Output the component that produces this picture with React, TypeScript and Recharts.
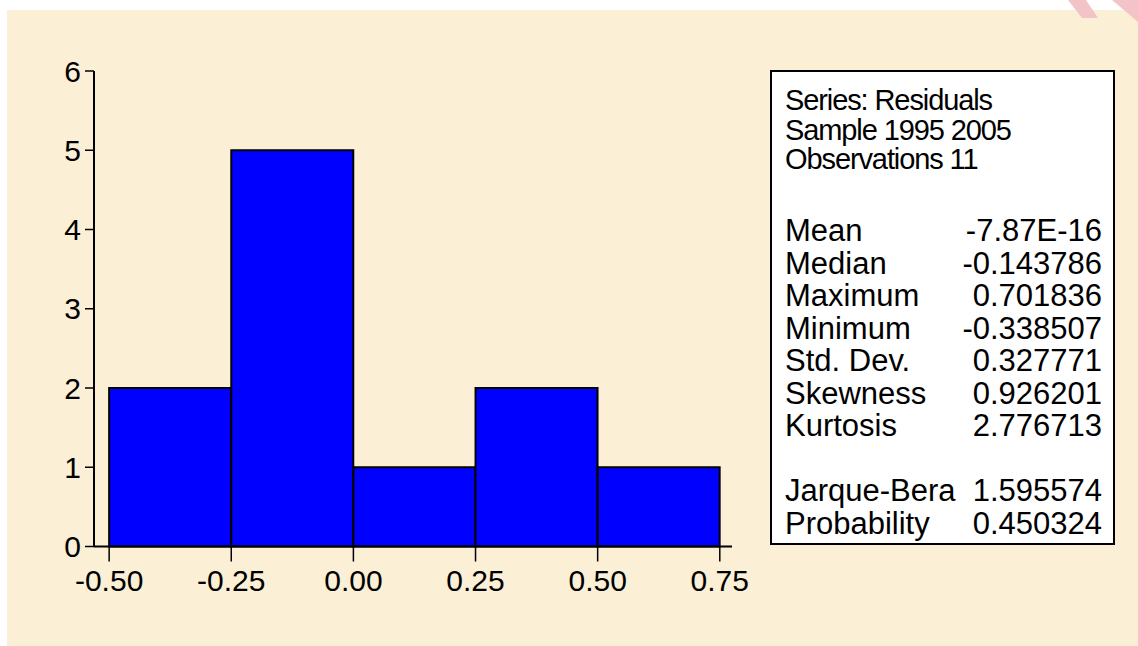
import { BarChart, Bar, XAxis, YAxis } from 'recharts';

// histogram bins of the residuals
const binEdges = [-0.5, -0.25, 0, 0.25, 0.5, 0.75];
const binCounts = [2, 5, 1, 2, 1];
const xTicks = [-0.5, -0.25, 0, 0.25, 0.5, 0.75];
const yTicks = [0, 1, 2, 3, 4, 5, 6];
const xDomain = [-0.531, 0.775];

const headerLines = ['Series: Residuals', 'Sample 1995 2005', 'Observations 11'];
const statLabels = ['Mean', 'Median', 'Maximum', 'Minimum', 'Std. Dev.', 'Skewness', 'Kurtosis'];
const statValues = ['-7.87E-16', '-0.143786', '0.701836', '-0.338507', '0.327771', '0.926201', '2.776713'];
const testLabels = ['Jarque-Bera', 'Probability'];
const testValues = ['1.595574', '0.450324'];

const bins = binCounts.map((count, i) => ({
  mid: (binEdges[i] + binEdges[i + 1]) / 2,
  count,
}));

const FONT = '"Liberation Sans", Arial, sans-serif';
const BG = '#FBEFD6';
const axisStyle = { stroke: '#000', strokeWidth: 2 };
const tickStyle = { stroke: '#000', strokeWidth: 1.5 };

const App = () => {
  return (
    <div
      style={{
        position: 'absolute',
        left: 0,
        top: 0,
        width: 1138,
        height: 646,
        background: '#fff',
        overflow: 'hidden',
        fontFamily: FONT,
      }}
    >
      <div style={{ position: 'absolute', left: 7, top: 10, width: 1131, height: 636, background: BG }} />
      <div style={{ position: 'absolute', left: 0, top: 0 }}>
        <BarChart
          width={760}
          height={646}
          data={bins}
          margin={{ top: 71, right: 28, bottom: 39.5, left: 0 }}
          barCategoryGap={0}
          barGap={0}
        >
          <XAxis
            dataKey="mid"
            type="number"
            domain={xDomain}
            allowDataOverflow
            ticks={xTicks}
            interval={0}
            tickFormatter={(v: number) => v.toFixed(2)}
            height={60}
            tickSize={15}
            tickMargin={8}
            axisLine={axisStyle}
            tickLine={tickStyle}
            tick={{ fill: '#000', fontSize: 30, fontFamily: FONT }}
          />
          <XAxis
            xAxisId="top"
            orientation="top"
            dataKey="mid"
            type="number"
            domain={xDomain}
            allowDataOverflow
            height={0}
            tick={false}
            tickLine={false}
            axisLine={axisStyle}
          />
          <YAxis
            type="number"
            domain={[0, 6]}
            ticks={yTicks}
            interval={0}
            width={94}
            tickSize={9}
            tickMargin={4}
            axisLine={axisStyle}
            tickLine={tickStyle}
            tick={{ fill: '#000', fontSize: 30, fontFamily: FONT }}
          />
          <YAxis
            yAxisId="right"
            orientation="right"
            type="number"
            domain={[0, 6]}
            width={0}
            tick={false}
            tickLine={false}
            axisLine={axisStyle}
          />
          <Bar dataKey="count" fill="#0000FF" stroke="#000" strokeWidth={2} isAnimationActive={false} />
        </BarChart>
      </div>
      <svg
        width={1138}
        height={646}
        style={{ position: 'absolute', left: 0, top: 0, pointerEvents: 'none' }}
      >
        <path d="M1068,0 L1086,0 L1098,18 L1082,18 Z" fill="#F2C4C8" />
        <path d="M1112,0 L1138,0 L1138,22 Z" fill="#F2C4C8" />
        <rect x={771} y={71} width={343} height={473} fill="#fff" stroke="#000" strokeWidth={2} />
        {headerLines.map((t, i) => (
          <text
            key={t}
            x={785}
            y={110 + i * 29.5}
            fontSize={29}
            letterSpacing={-1.1}
            fontFamily={FONT}
            fill="#000"
          >
            {t}
          </text>
        ))}
        {statLabels.map((t, i) => (
          <g key={t}>
            <text x={785} y={241 + i * 32.5} fontSize={31} fontFamily={FONT} fill="#000">
              {t}
            </text>
            <text x={1102} y={241 + i * 32.5} fontSize={31} fontFamily={FONT} fill="#000" textAnchor="end">
              {statValues[i]}
            </text>
          </g>
        ))}
        {testLabels.map((t, i) => (
          <g key={t}>
            <text x={785} y={501 + i * 32.5} fontSize={31} fontFamily={FONT} fill="#000">
              {t}
            </text>
            <text x={1102} y={501 + i * 32.5} fontSize={31} fontFamily={FONT} fill="#000" textAnchor="end">
              {testValues[i]}
            </text>
          </g>
        ))}
      </svg>
    </div>
  );
};

export default App;
